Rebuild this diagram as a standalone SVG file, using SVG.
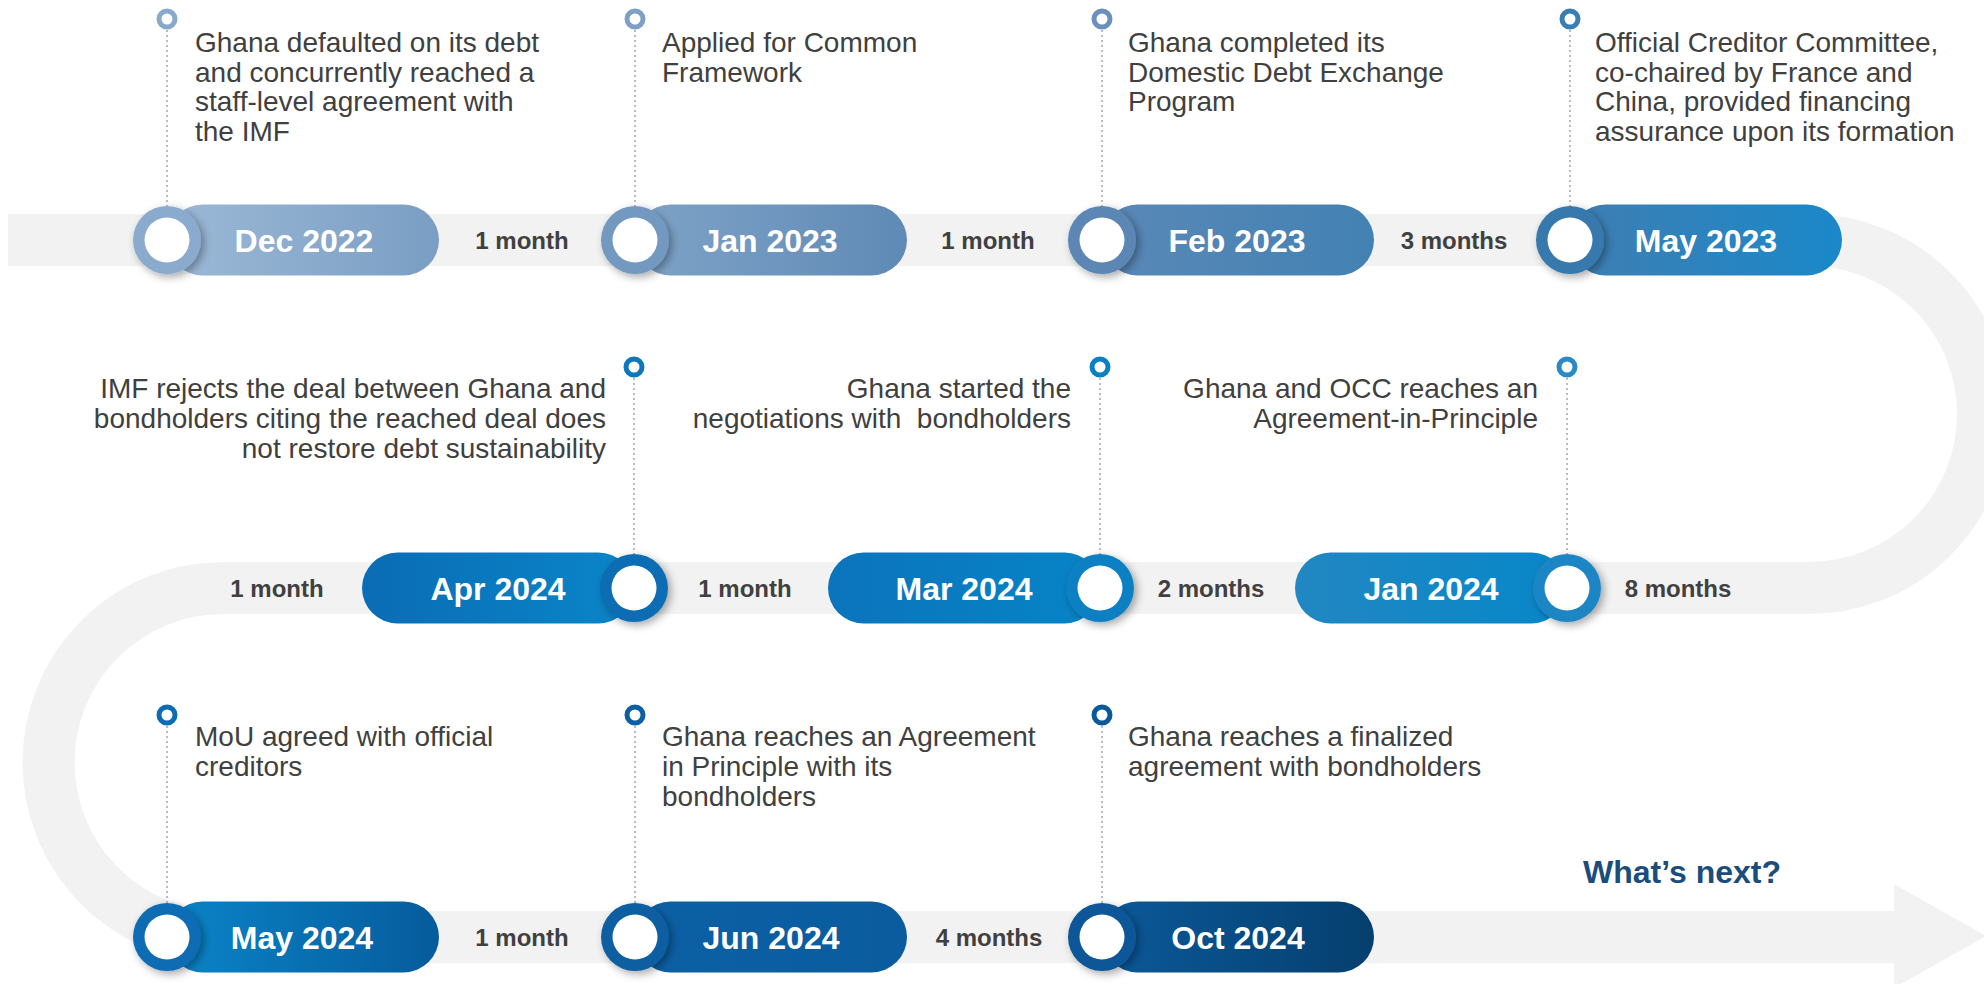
<svg xmlns="http://www.w3.org/2000/svg" width="1984" height="984" viewBox="0 0 1984 984">
  <style>
    .body { font-family: "Liberation Sans", Arial, sans-serif; font-size: 28px; fill: #404040; }
    .r { text-anchor: end; }
    .date { font-family: "Liberation Sans", Arial, sans-serif; font-size: 32px; font-weight: bold; fill: #ffffff; text-anchor: middle; }
    .gap { font-family: "Liberation Sans", Arial, sans-serif; font-size: 24px; font-weight: bold; fill: #404040; text-anchor: middle; }
    .next { font-family: "Liberation Sans", Arial, sans-serif; font-size: 32px; font-weight: bold; fill: #1a4d7c; text-anchor: middle; }
    .track { fill: none; stroke: #f2f2f2; stroke-width: 52; }
    .stem { stroke: #a6a6a6; stroke-width: 1.5; stroke-dasharray: 2 3; fill: none; }
    .pin { fill: #ffffff; stroke-width: 5; }
    .hole { fill: #ffffff; }
  </style>
  <defs>
    <filter id="shadow" x="-60%" y="-60%" width="220%" height="220%">
      <feDropShadow dx="3" dy="3" stdDeviation="4" flood-color="#000000" flood-opacity="0.35"/>
    </filter>
    <linearGradient id="gDec22"><stop offset="0" stop-color="#9cb9d6"/><stop offset="1" stop-color="#7a9ec4"/></linearGradient>
    <linearGradient id="gJan23"><stop offset="0" stop-color="#7fa3c8"/><stop offset="1" stop-color="#5f8ab5"/></linearGradient>
    <linearGradient id="gFeb23"><stop offset="0" stop-color="#5a88b7"/><stop offset="1" stop-color="#4282b3"/></linearGradient>
    <linearGradient id="gMay23"><stop offset="0" stop-color="#3f7eb2"/><stop offset="1" stop-color="#1a88c9"/></linearGradient>
    <linearGradient id="gApr24"><stop offset="0" stop-color="#0a6cb5"/><stop offset="1" stop-color="#0a86c8"/></linearGradient>
    <linearGradient id="gMar24"><stop offset="0" stop-color="#0b74bc"/><stop offset="1" stop-color="#0784c7"/></linearGradient>
    <linearGradient id="gJan24"><stop offset="0" stop-color="#2287c2"/><stop offset="1" stop-color="#0787c9"/></linearGradient>
    <linearGradient id="gMay24"><stop offset="0" stop-color="#0a85c8"/><stop offset="1" stop-color="#065b9c"/></linearGradient>
    <linearGradient id="gJun24"><stop offset="0" stop-color="#0b60a4"/><stop offset="1" stop-color="#0a5c9e"/></linearGradient>
    <linearGradient id="gOct24"><stop offset="0" stop-color="#0b599a"/><stop offset="1" stop-color="#053f6e"/></linearGradient>
  </defs>

  <!-- serpentine track with the closing arrow -->
  <g id="connectors">
    <path class="track" d="M 8 240 H 1809 A 174 174 0 0 1 1809 588 H 223 A 174.5 174.5 0 0 0 223 937 H 1900"/>
    <polygon points="1894,884 1986,936 1894,988" fill="#f2f2f2"/>
    <!-- dotted stems from pins to milestones -->
    <line class="stem" x1="167" y1="30" x2="167" y2="206"/>
    <line class="stem" x1="635" y1="30" x2="635" y2="206"/>
    <line class="stem" x1="1102" y1="30" x2="1102" y2="206"/>
    <line class="stem" x1="1570" y1="30" x2="1570" y2="206"/>
    <line class="stem" x1="634" y1="378" x2="634" y2="554"/>
    <line class="stem" x1="1100" y1="378" x2="1100" y2="554"/>
    <line class="stem" x1="1567" y1="378" x2="1567" y2="554"/>
    <line class="stem" x1="167" y1="726" x2="167" y2="903"/>
    <line class="stem" x1="635" y1="726" x2="635" y2="903"/>
    <line class="stem" x1="1102" y1="726" x2="1102" y2="903"/>
  </g>

  <!-- gap durations -->
  <g id="durations">
    <text class="gap" x="522" y="249">1 month</text>
    <text class="gap" x="988" y="249">1 month</text>
    <text class="gap" x="1454" y="249">3 months</text>
    <text class="gap" x="277" y="597">1 month</text>
    <text class="gap" x="745" y="597">1 month</text>
    <text class="gap" x="1211" y="597">2 months</text>
    <text class="gap" x="1678" y="597">8 months</text>
    <text class="gap" x="522" y="946">1 month</text>
    <text class="gap" x="989" y="946">4 months</text>
  </g>

  <!-- row 1 -->
  <g id="dec2022">
    <rect x="167" y="204.5" width="272" height="71" rx="35.5" fill="url(#gDec22)"/>
    <g filter="url(#shadow)"><circle cx="167" cy="240" r="34" fill="#8aabcd"/></g>
    <circle class="hole" cx="167" cy="240" r="22.5"/>
    <text class="date" x="304" y="251.5">Dec 2022</text>
    <circle class="pin" cx="167" cy="19" r="8" stroke="#87a9cc"/>
    <text class="body" x="195"><tspan x="195" y="52">Ghana defaulted on its debt</tspan><tspan x="195" y="81.5">and concurrently reached a</tspan><tspan x="195" y="111">staff-level agreement with</tspan><tspan x="195" y="140.5">the IMF</tspan></text>
  </g>
  <g id="jan2023">
    <rect x="635" y="204.5" width="272" height="71" rx="35.5" fill="url(#gJan23)"/>
    <g filter="url(#shadow)"><circle cx="635" cy="240" r="34" fill="#7399c1"/></g>
    <circle class="hole" cx="635" cy="240" r="22.5"/>
    <text class="date" x="770" y="251.5">Jan 2023</text>
    <circle class="pin" cx="635" cy="19" r="8" stroke="#7fa0c5"/>
    <text class="body"><tspan x="662" y="52">Applied for Common</tspan><tspan x="662" y="81.5">Framework</tspan></text>
  </g>
  <g id="feb2023">
    <rect x="1102" y="204.5" width="272" height="71" rx="35.5" fill="url(#gFeb23)"/>
    <g filter="url(#shadow)"><circle cx="1102" cy="240" r="34" fill="#5b87b5"/></g>
    <circle class="hole" cx="1102" cy="240" r="22.5"/>
    <text class="date" x="1237" y="251.5">Feb 2023</text>
    <circle class="pin" cx="1102" cy="19" r="8" stroke="#6a90bb"/>
    <text class="body"><tspan x="1128" y="52">Ghana completed its</tspan><tspan x="1128" y="81.5">Domestic Debt Exchange</tspan><tspan x="1128" y="111">Program</tspan></text>
  </g>
  <g id="may2023">
    <rect x="1570" y="204.5" width="272" height="71" rx="35.5" fill="url(#gMay23)"/>
    <g filter="url(#shadow)"><circle cx="1570" cy="240" r="34" fill="#3779ad"/></g>
    <circle class="hole" cx="1570" cy="240" r="22.5"/>
    <text class="date" x="1706" y="251.5">May 2023</text>
    <circle class="pin" cx="1570" cy="19" r="8" stroke="#3a7db5"/>
    <text class="body"><tspan x="1595" y="52">Official Creditor Committee,</tspan><tspan x="1595" y="81.5">co-chaired by France and</tspan><tspan x="1595" y="111">China, provided financing</tspan><tspan x="1595" y="140.5">assurance upon its formation</tspan></text>
  </g>

  <!-- row 2 (runs right to left) -->
  <g id="jan2024">
    <rect x="1295" y="552.5" width="272" height="71" rx="35.5" fill="url(#gJan24)"/>
    <g filter="url(#shadow)"><circle cx="1567" cy="588" r="34" fill="#1c85c4"/></g>
    <circle class="hole" cx="1567" cy="588" r="22.5"/>
    <text class="date" x="1431" y="599.5">Jan 2024</text>
    <circle class="pin" cx="1567" cy="367" r="8" stroke="#2a8ac6"/>
    <text class="body r"><tspan x="1538" y="398">Ghana and OCC reaches an</tspan><tspan x="1538" y="428">Agreement-in-Principle</tspan></text>
  </g>
  <g id="mar2024">
    <rect x="828" y="552.5" width="272" height="71" rx="35.5" fill="url(#gMar24)"/>
    <g filter="url(#shadow)"><circle cx="1100" cy="588" r="34" fill="#0a7fc3"/></g>
    <circle class="hole" cx="1100" cy="588" r="22.5"/>
    <text class="date" x="964" y="599.5">Mar 2024</text>
    <circle class="pin" cx="1100" cy="367" r="8" stroke="#0a80c5"/>
    <text class="body r" xml:space="preserve"><tspan x="1071" y="398">Ghana started the</tspan><tspan x="1071" y="428">negotiations with  bondholders</tspan></text>
  </g>
  <g id="apr2024">
    <rect x="362" y="552.5" width="272" height="71" rx="35.5" fill="url(#gApr24)"/>
    <g filter="url(#shadow)"><circle cx="634" cy="588" r="34" fill="#0a6db4"/></g>
    <circle class="hole" cx="634" cy="588" r="22.5"/>
    <text class="date" x="498" y="599.5">Apr 2024</text>
    <circle class="pin" cx="634" cy="367" r="8" stroke="#0e76bd"/>
    <text class="body r"><tspan x="606" y="398">IMF rejects the deal between Ghana and</tspan><tspan x="606" y="428">bondholders citing the reached deal does</tspan><tspan x="606" y="458">not restore debt sustainability</tspan></text>
  </g>

  <!-- row 3 -->
  <g id="may2024">
    <rect x="167" y="901.5" width="272" height="71" rx="35.5" fill="url(#gMay24)"/>
    <g filter="url(#shadow)"><circle cx="167" cy="937" r="34" fill="#0b6cb3"/></g>
    <circle class="hole" cx="167" cy="937" r="22.5"/>
    <text class="date" x="302" y="948.5">May 2024</text>
    <circle class="pin" cx="167" cy="715" r="8" stroke="#0a6cb4"/>
    <text class="body"><tspan x="195" y="746">MoU agreed with official</tspan><tspan x="195" y="776">creditors</tspan></text>
  </g>
  <g id="jun2024">
    <rect x="635" y="901.5" width="272" height="71" rx="35.5" fill="url(#gJun24)"/>
    <g filter="url(#shadow)"><circle cx="635" cy="937" r="34" fill="#0b5ea2"/></g>
    <circle class="hole" cx="635" cy="937" r="22.5"/>
    <text class="date" x="771" y="948.5">Jun 2024</text>
    <circle class="pin" cx="635" cy="715" r="8" stroke="#0b5fa2"/>
    <text class="body"><tspan x="662" y="746">Ghana reaches an Agreement</tspan><tspan x="662" y="776">in Principle with its</tspan><tspan x="662" y="806">bondholders</tspan></text>
  </g>
  <g id="oct2024">
    <rect x="1102" y="901.5" width="272" height="71" rx="35.5" fill="url(#gOct24)"/>
    <g filter="url(#shadow)"><circle cx="1102" cy="937" r="34" fill="#0b5797"/></g>
    <circle class="hole" cx="1102" cy="937" r="22.5"/>
    <text class="date" x="1238" y="948.5">Oct 2024</text>
    <circle class="pin" cx="1102" cy="715" r="8" stroke="#0a5998"/>
    <text class="body"><tspan x="1128" y="746">Ghana reaches a finalized</tspan><tspan x="1128" y="776">agreement with bondholders</tspan></text>
  </g>

  <g id="whats-next">
    <text class="next" x="1682" y="883">What’s next?</text>
  </g>
</svg>
